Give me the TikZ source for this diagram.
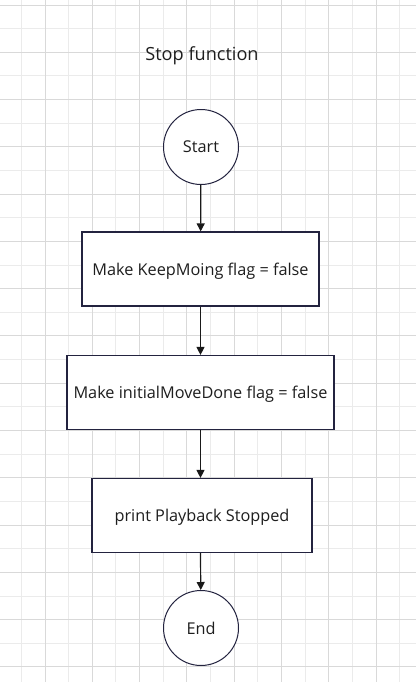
\documentclass[tikz,border=0pt]{standalone}
\usepackage{fontspec}
\setmainfont{Open Sans}
\usetikzlibrary{arrows.meta}

\definecolor{gridmajor}{HTML}{D9D9D9}
\definecolor{gridminor}{HTML}{EBEBEB}
\definecolor{shapeline}{HTML}{23233F}
\definecolor{textcol}{HTML}{1E1E1E}

\tikzset{
	flowbox/.style={draw=shapeline, fill=white, line width=0.9pt, text=textcol,
		minimum height=74*0.75pt, text depth=0pt, font=\fontsize{12.2}{14}\selectfont},
	terminal/.style={circle, draw=shapeline, fill=white, line width=0.75pt, text=textcol,
		minimum size=75*0.75pt, inner sep=0pt, font=\fontsize{12.2}{14}\selectfont},
	flowarrow/.style={draw=black!90, line width=0.9pt, -{Triangle[length=6pt,width=6pt]}}
}

\begin{document}
\begin{tikzpicture}[x=0.75pt, y=-0.75pt]
		%%%%% GRID %%%%%
		\useasboundingbox (0, 0) rectangle (416, 682);
		\fill[white] (0, 0) rectangle (416, 682);
		
		\foreach \k in {0,...,16}
			\draw[line width=0.75pt, color=gridminor] ({21.4+23.64*\k}, 0) -- ({21.4+23.64*\k}, 682);
		\foreach \k in {0,...,28}
			\draw[line width=0.75pt, color=gridminor] (0, {5+23.64*\k}) -- (416, {5+23.64*\k});
		\foreach \k in {1,3,...,15}
			\draw[line width=0.75pt, color=gridmajor] ({21.4+23.64*\k}, 0) -- ({21.4+23.64*\k}, 682);
		\foreach \k in {0,2,...,28}
			\draw[line width=0.75pt, color=gridmajor] (0, {5+23.64*\k}) -- (416, {5+23.64*\k});
		
		%%%%% FLOW %%%%%
		\node[text=textcol, font=\fontsize{13.6}{16}\selectfont] (title) at (202, 56) {Stop function};
		
		\node[terminal] (start) at (201, 147) {Start};
		\node[flowbox, minimum width=237*0.75pt] (keepmoving) at (200.5, 269) {Make KeepMoing flag = false};
		\node[flowbox, minimum width=267*0.75pt] (initialmove) at (200.5, 392.5) {Make initialMoveDone flag = false};
		\node[flowbox, minimum width=220*0.75pt] (printstop) at (202, 515.5) {print Playback Stopped};
		\node[terminal] (end) at (201, 628) {End};
		
		\draw[flowarrow] (start) -- (keepmoving);
		\draw[flowarrow] (keepmoving) -- (initialmove);
		\draw[flowarrow] (initialmove.south -| keepmoving) -- (printstop.north -| keepmoving);
		\draw[flowarrow] (printstop.south -| keepmoving) -- (end);
		
		%%%%% END %%%%%
	\end{tikzpicture}
\end{document}
